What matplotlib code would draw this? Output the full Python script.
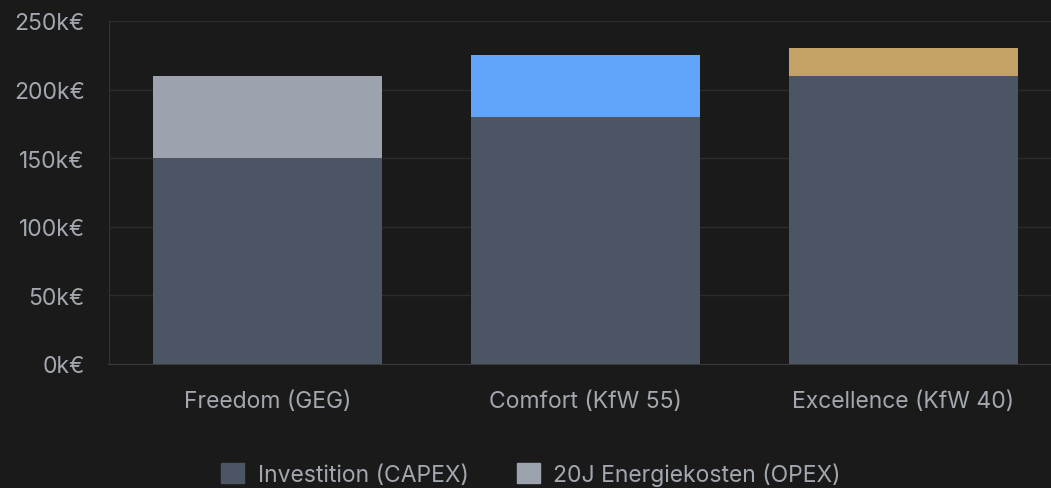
import numpy as np
import matplotlib.pyplot as plt
from matplotlib.patches import Patch

categories = ["Freedom (GEG)", "Comfort (KfW 55)", "Excellence (KfW 40)"]
capex = [150, 180, 210]
opex = [60, 45, 20]
opex_colors = ["#9ca3af", "#60a5fa", "#c4a265"]
yticks = [0, 50, 100, 150, 200, 250]
legend_labels = ["Investition (CAPEX)", "20J Energiekosten (OPEX)"]

plt.rcParams['font.family'] = ['Inter', 'DejaVu Sans']
bg = "#1a1a1a"
txt = "#a3a8b0"
fs = 16.5

fig = plt.figure(figsize=(10.51, 4.89), dpi=100, facecolor=bg)
W, H = 1051, 489
left, right, top, bottom = 108.5, 1062.5, 22, 365
ax = fig.add_axes([left / W, 1 - bottom / H, (right - left) / W, (bottom - top) / H])
ax.set_facecolor(bg)

x = np.arange(len(categories))
ax.bar(x, capex, width=0.72, color="#4b5563", zorder=3)
ax.bar(x, opex, width=0.72, bottom=capex, color=opex_colors, zorder=3)

ax.set_xlim(-0.5, 2.5)
ax.set_ylim(0, 250)
ax.set_yticks(yticks)
ax.set_yticklabels([f"{v}k€" for v in yticks])
ax.set_xticks(x)
ax.set_xticklabels(categories)
ax.tick_params(axis='y', colors=txt, labelsize=fs, length=0, pad=17)
ax.tick_params(axis='x', colors=txt, labelsize=fs, length=0, pad=19)
ax.grid(axis='y', color="#2c2c2c", linewidth=1, zorder=0)
for s in ['top', 'right']:
    ax.spines[s].set_visible(False)
ax.spines['left'].set_color("#333333")
ax.spines['bottom'].set_color("#3a3a3a")

handles = [Patch(color="#4b5563"), Patch(color="#9ca3af")]
fig.legend(handles, legend_labels, loc='center', bbox_to_anchor=(531 / W, 1 - 475 / H),
           ncol=2, frameon=False, fontsize=fs, labelcolor=txt,
           handlelength=1.0, handleheight=1.0, handletextpad=0.6, columnspacing=2.1)

fig.savefig("out.png", dpi=100, facecolor=bg)
